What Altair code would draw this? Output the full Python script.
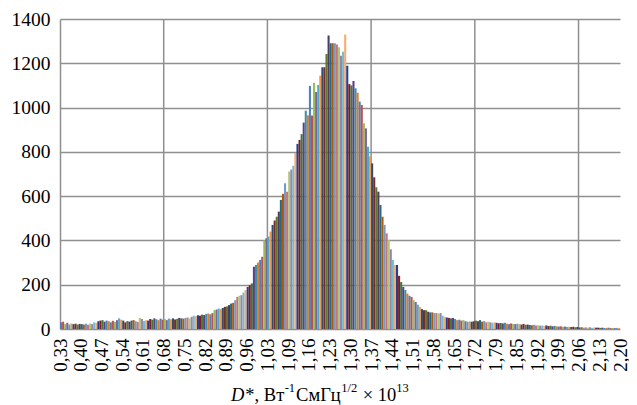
import json
import pandas as pd
import altair as alt

# histogram counts, 10 bins per labelled category step (27 steps)
counts = [
    30, 33, 22, 28, 20, 25, 22, 24, 20, 23,
    22, 20, 24, 19, 25, 22, 30, 28, 35, 38,
    40, 33, 38, 35, 30, 37, 32, 40, 48, 42,
    38, 30, 36, 33, 38, 40, 35, 32, 50, 45,
    36, 40, 38, 45, 42, 48, 44, 40, 47, 42,
    45, 40, 47, 44, 48, 43, 46, 50, 48, 47,
    50, 52, 48, 55, 60, 58, 62, 60, 65, 63,
    68, 70, 66, 72, 85, 88, 92, 90, 95, 100,
    102, 108, 115, 118, 130, 145, 150, 153, 165, 176,
    190, 198, 206, 281, 289, 300, 312, 326, 400, 410,
    417, 440, 470, 490, 507, 530, 583, 610, 658, 620,
    711, 720, 737, 794, 836, 854, 880, 932, 986, 965,
    1098, 964, 1112, 1070, 1102, 1144, 1182, 1182, 1242, 1325,
    1290, 1290, 1290, 1285, 1272, 1234, 1252, 1330, 1189, 1106,
    1100, 1120, 1087, 1067, 1027, 1012, 929, 906, 823, 780,
    748, 685, 640, 620, 560, 507, 470, 432, 402, 360,
    312, 289, 289, 240, 212, 190, 176, 160, 150, 145,
    130, 122, 110, 100, 90, 85, 85, 78, 75, 75,
    72, 72, 70, 72, 60, 55, 52, 50, 48, 50,
    45, 40, 42, 38, 40, 35, 33, 34, 33, 35,
    38, 35, 40, 33, 36, 30, 33, 30, 28, 30,
    28, 26, 27, 25, 28, 24, 22, 25, 23, 22,
    24, 22, 20, 23, 19, 20, 18, 17, 19, 16,
    17, 15, 16, 14, 16, 13, 15, 12, 14, 12,
    11, 12, 10, 11, 9, 10, 9, 10, 8, 9,
    7, 8, 6, 7, 6, 8, 5, 7, 6, 6,
    5, 6, 4, 5, 6, 4, 5, 4, 5, 4,
]

tick_labels = [
    "0,33", "0,40", "0,47", "0,54", "0,61", "0,68", "0,75", "0,82", "0,89",
    "0,96", "1,03", "1,09", "1,16", "1,23", "1,30", "1,37", "1,44", "1,51",
    "1,58", "1,65", "1,72", "1,79", "1,85", "1,92", "1,99", "2,06", "2,13",
    "2,20",
]
y_ticks = [0, 200, 400, 600, 800, 1000, 1200, 1400]

# axis title pieces: (text, style)
title_pieces = [
    ("D", "italic"),
    ("*, Вт", "normal"),
    ("-1", "sup"),
    ("СмГц", "normal"),
    ("1/2", "sup"),
    ("×", "gap"),
    ("10", "gap"),
    ("13", "sup"),
]

bins_per_label = 10
grid_every = 5

palette = [
    "#4F81BD", "#C0504D", "#9BBB59", "#8064A2", "#4BACC6", "#F79646",
    "#2C4D75", "#772C2A", "#5F7530", "#4D3B62", "#276A7C", "#B65708",
    "#729ACA", "#CD7371", "#AFC97A", "#9983B5", "#6FBDD1", "#F9AB6B",
    "#1F3F99", "#8B1A1A", "#3A7A3A", "#5B3F8C", "#3E8FA8", "#E07B2A",
]

n = len(counts)
df = pd.DataFrame({
    "i": list(range(n)),
    "i2": [k + 1 for k in range(n)],
    "count": counts,
})

tick_values = [k * bins_per_label for k in range(len(tick_labels))]
grid_positions = [v for k, v in enumerate(tick_values) if k % grid_every == 0 and 0 < v < n]
label_expr = json.dumps(tick_labels) + "[round(datum.value/%d)]" % bins_per_label

FONT = "Liberation Serif"
GRID = "#8f8f8f"
W, H = 560, 310

xscale = alt.Scale(domain=[0, n], nice=False, zero=False)
yscale = alt.Scale(domain=[0, 1400], nice=False)

x_axis = alt.Axis(
    values=tick_values,
    labelExpr=label_expr,
    labelAngle=270,
    labelFont=FONT,
    labelFontSize=19,
    labelColor="black",
    labelPadding=9,
    labelOverlap=False,
    labelFlush=False,
    ticks=False,
    domain=False,
    grid=False,
    title=None,
)

y_axis = alt.Axis(
    values=y_ticks,
    format="d",
    labelFont=FONT,
    labelFontSize=19.5,
    labelColor="black",
    labelPadding=10,
    ticks=False,
    domain=True,
    domainColor=GRID,
    domainWidth=1.5,
    grid=True,
    gridColor=GRID,
    gridWidth=1.5,
    title=None,
)

grid = alt.Chart(pd.DataFrame({"g": grid_positions})).mark_rule(
    color=GRID, strokeWidth=1.5
).encode(x=alt.X("g:Q", scale=xscale, axis=x_axis))

bars = alt.Chart(df).mark_bar(strokeWidth=0).encode(
    x=alt.X("i:Q", scale=xscale, axis=x_axis),
    x2="i2:Q",
    y=alt.Y("count:Q", scale=yscale, axis=y_axis),
    y2=alt.datum(0),
    color=alt.Color("i:N", scale=alt.Scale(range=palette), legend=None),
)

# approximate advance widths (em) for placing title pieces one after another
EM = {"D": 0.722, "*": 0.5, ",": 0.25, " ": 0.25, "В": 0.667, "т": 0.46,
      "-": 0.333, "1": 0.5, "2": 0.5, "3": 0.5, "0": 0.5, "/": 0.278,
      "С": 0.667, "м": 0.64, "Г": 0.61, "ц": 0.52, "×": 0.564}
MAIN, SUP = 18.5, 12.5
layers = [grid, bars]
cur = 171.0
for text, style in title_pieces:
    size = SUP if style == "sup" else MAIN
    base = 373 if style == "sup" else 382
    if style == "gap":
        cur += 0.25 * MAIN
    layers.append(
        alt.Chart(pd.DataFrame({"t": [text]})).mark_text(
            font=FONT, fontSize=size, align="left", baseline="alphabetic",
            color="black", fontStyle="italic" if style == "italic" else "normal",
        ).encode(text="t:N", x=alt.value(cur), y=alt.value(base))
    )
    cur += sum(EM.get(ch, 0.5) for ch in text) * size + (1 if style in ("italic", "sup") else 0)

chart = alt.layer(*layers).properties(
    width=W,
    height=H,
    autosize=alt.AutoSizeParams(type="none"),
    padding={"left": 52, "top": 11, "right": 9, "bottom": 76},
    background="white",
).configure_view(stroke=None)

chart.save("out.html", embed_options={"renderer": "svg", "actions": False})
